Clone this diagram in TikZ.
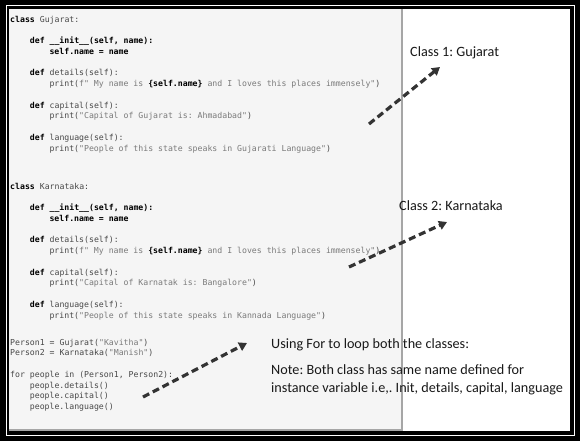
\documentclass[tikz,border=0pt]{standalone}
\usepackage{fontspec}
\usepackage{xcolor}
\usepackage{tikz}
\usetikzlibrary{arrows.meta}
\newfontfamily\codefont{DejaVu Sans Mono}
\newfontfamily\notefont{Carlito}
\definecolor{panel}{HTML}{F5F5F5}
\definecolor{codegray}{HTML}{484848}
\definecolor{strgray}{HTML}{7A7A7A}
\newcommand{\kw}[1]{\textbf{\color{black}#1}}
\newcommand{\str}[1]{{\color{strgray}#1}}
\newcommand{\ind}{\hspace*{2.4em}}
\frenchspacing

\begin{document}
\begin{tikzpicture}[x=1pt,y=-1pt,
  code/.style={anchor=north west,inner sep=0pt,align=left,text=codegray,
    font=\codefont\frenchspacing\fontsize{8.2}{10.75}\selectfont},
  note/.style={anchor=base west,inner sep=0pt,text=black!90,
    font=\notefont\frenchspacing\fontsize{14.2}{17}\selectfont},
  pointer/.style={draw=black!80,line width=3.2pt,dash pattern=on 7pt off 4pt,
    -{Triangle[length=8pt,width=9pt]}}]
\useasboundingbox (0,0) rectangle (580,441);
% frame and code panel
\fill[black] (0,0) rectangle (580,441);
\draw[white,line width=1pt] (6,6) rectangle (574,435);
\fill[white] (9,9) rectangle (570,431);
\fill[panel] (9,9) rectangle (402,429);
\draw[black!35,line width=1.5pt] (402,9) -- (402,430) -- (9,430);

\node[code] (gujarat) at (10,15.6) {\kw{class} Gujarat:\\[10.75pt]
\ind\kw{def \_\_init\_\_(self, name):}\\
\ind\ind\kw{self.name = name}\\[10.75pt]
\ind\kw{def} details(self):\\
\ind\ind print(\str{f" My name is} \kw{\{self.name\}} \str{and I loves this places immensely"})\\[10.75pt]
\ind\kw{def} capital(self):\\
\ind\ind print(\str{"Capital of Gujarat is: Ahmadabad"})\\[10.75pt]
\ind\kw{def} language(self):\\
\ind\ind print(\str{"People of this state speaks in Gujarati Language"})};

\node[code] (karnataka) at (10,182.8) {\kw{class} Karnataka:\\[10.75pt]
\ind\kw{def \_\_init\_\_(self, name):}\\
\ind\ind\kw{self.name = name}\\[10.75pt]
\ind\kw{def} details(self):\\
\ind\ind print(\str{f" My name is} \kw{\{self.name\}} \str{and I loves this places immensely"})\\[10.75pt]
\ind\kw{def} capital(self):\\
\ind\ind print(\str{"Capital of Karnatak is: Bangalore"})\\[10.75pt]
\ind\kw{def} language(self):\\
\ind\ind print(\str{"People of this state speaks in Kannada Language"})};

\node[code] (loop) at (10,338.8) {Person1 = Gujarat(\str{"Kavitha"})\\
Person2 = Karnataka(\str{"Manish"})\\[10.75pt]
for people in (Person1, Person2):\\
\ind people.details()\\
\ind people.capital()\\
\ind people.language()};

% notes on the right
\node[note] (class1) at (410,57) {Class 1: Gujarat};
\node[note] (class2) at (399,210) {Class 2: Karnataka};
\node[note] (using) at (271,348) {Using For to loop both the classes:};
\node[note] (note1) at (271,374) {Note: Both class has same name defined for};
\node[note] (note2) at (271,392.7) {instance variable i.e,. Init, details, capital, language};

\coordinate (from1) at (369,124);
\coordinate (to1) at (440,67);
\coordinate (from2) at (349,267);
\coordinate (to2) at (447,222);
\coordinate (from3) at (143,397);
\coordinate (to3) at (247,343);
\draw[pointer] (from1) -- (to1);
\draw[pointer] (from2) -- (to2);
\draw[pointer] (from3) -- (to3);
\end{tikzpicture}
\end{document}
